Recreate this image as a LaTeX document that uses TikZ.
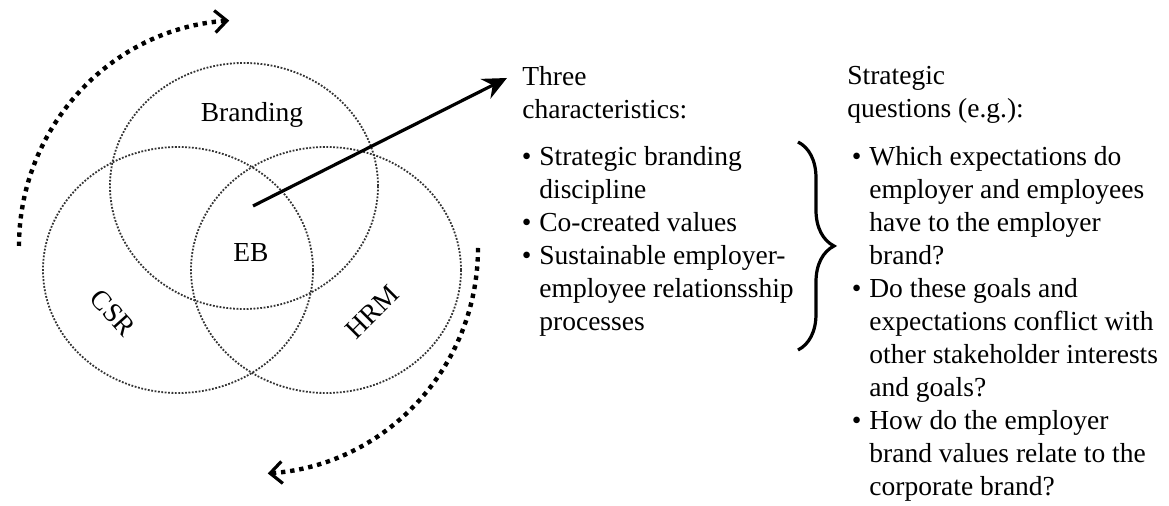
\documentclass[tikz,border=0pt]{standalone}
\usepackage{fontspec}
\setmainfont{Liberation Serif}
\usetikzlibrary{arrows.meta,decorations.pathreplacing}

\newcommand{\itm}{\llap{\textbullet\hspace{4pt}}}

\begin{document}
\begin{tikzpicture}[x=0.5pt,y=0.5pt,
    font={\fontsize{13.75}{16.5}\selectfont},
    venn/.style={draw=black!80,line width=0.9pt,dash pattern=on 0.9pt off 0.8pt},
    turn/.style={line width=2.2pt,dash pattern=on 2.2pt off 2.4pt,
      -{Straight Barb[length=6pt,width=11pt,line width=1.6pt]}},
    txt/.style={anchor=north west,align=left,inner sep=0pt}]
    \useasboundingbox (0,0) rectangle (1169,506);

    % the three areas
    \draw[venn] (244,320) ellipse [x radius=134, y radius=123];
    \draw[venn] (178,236) ellipse [x radius=135, y radius=123];
    \draw[venn] (326,236) ellipse [x radius=135, y radius=123];

    \node (brand) at (252,391) {Branding};
    \node (eb) at (251,253) {EB};
    \node[rotate=-48,inner sep=1pt] (csr) at (113,193) {CSR};
    \node[rotate=45,inner sep=1pt] (hrm) at (372,194) {HRM};

    % turning around the circles
    \draw[turn] (19,260) arc[start angle=180, end angle=94, radius=226];
    \draw[turn] (478,258) arc[start angle=0, end angle=-86, radius=226];

    % arrow out of EB
    \coordinate (ebout) at (253,300);
    \coordinate (ebtip) at (507,428);
    \draw[line width=1.6pt,-{Stealth[length=12pt,width=11pt,inset=4pt]}] (ebout) -- (ebtip);

    \node[txt] (chars) at (522,440) {Three\\characteristics:};
    \node[txt] (charlist) at (539,360) {\itm Strategic branding\\discipline\\
      \itm Co-created values\\\itm Sustainable employer-\\employee relationsship\\processes};

    \coordinate (bracetop) at (798,364);
    \coordinate (bracebot) at (798,156);
    \draw[line width=1.6pt,decorate,decoration={brace,amplitude=18pt}] (bracetop) -- (bracebot);

    \node[txt] (quest) at (847,440) {Strategic\\questions (e.g.):};
    \node[txt] (questlist) at (869,360) {\itm Which expectations do\\employer and employees\\
      have to the employer\\brand?\\\itm Do these goals and\\expectations conflict with\\
      other stakeholder interests\\and goals?\\\itm How do the employer\\
      brand values relate to the\\corporate brand?};

  \end{tikzpicture}
\end{document}
